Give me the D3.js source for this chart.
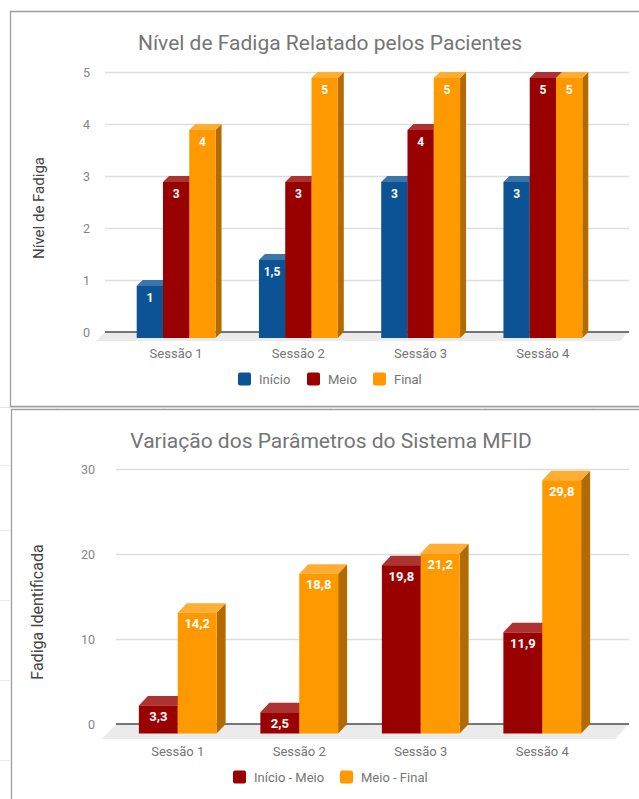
<!DOCTYPE html>
<html>
<head>
<meta charset="utf-8">
<script src="https://cdn.jsdelivr.net/npm/d3@7"></script>
<style>
  html, body { margin: 0; padding: 0; background: #fff; }
  svg { display: block; font-family: Roboto, "Noto Sans", Arial, sans-serif; }
</style>
</head>
<body>
<svg id="chart" width="639" height="799"></svg>
<script>
// Session categories shared by both charts
const sessions = ["Sessão 1", "Sessão 2", "Sessão 3", "Sessão 4"];

// Chart 1: reported fatigue level
const fatigueSeries = ["Início", "Meio", "Final"];
const fatigueInicio = [1, 1.5, 3, 3];
const fatigueMeio = [3, 3, 4, 5];
const fatigueFinal = [4, 5, 5, 5];
const fatigueTicks = [0, 1, 2, 3, 4, 5];

// Chart 2: MFID parameter variation
const mfidSeries = ["Início - Meio", "Meio - Final"];
const mfidInicioMeio = [3.3, 2.5, 19.8, 11.9];
const mfidMeioFinal = [14.2, 18.8, 21.2, 29.8];
const mfidTicks = [0, 10, 20, 30];

const palette = {
  blue:   { front: "#0b5394", top: "#3c75a9", side: "#083a68" },
  red:    { front: "#990000", top: "#ad3333", side: "#6b0000" },
  orange: { front: "#ff9900", top: "#ffad33", side: "#b36b00" }
};

const fmt = v => String(v).replace(".", ",");

const svg = d3.select("#chart");

// spreadsheet cell lines visible around the chart frames
const bg = svg.append("g");
bg.append("line").attr("x1", 0).attr("x2", 639).attr("y1", 407.5).attr("y2", 407.5)
  .attr("stroke", "#e3e3e3");
[57, 163, 330, 485, 593].forEach(x => {
  bg.append("line").attr("x1", x + 0.5).attr("x2", x + 0.5).attr("y1", 406).attr("y2", 410)
    .attr("stroke", "#e3e3e3");
});
[465, 530, 600, 680, 760].forEach(y => {
  bg.append("line").attr("x1", 0).attr("x2", 10).attr("y1", y + 0.5).attr("y2", y + 0.5)
    .attr("stroke", "#ececec");
});

function drawChart(cfg) {
  const g = svg.append("g");

  // frame (open to the right / bottom like a clipped sheet object)
  g.append("path")
    .attr("d", cfg.frame)
    .attr("fill", "none")
    .attr("stroke", "#9e9e9e")
    .attr("stroke-width", 1.3);

  const y = d3.scaleLinear().domain(cfg.domain).range([cfg.y0, cfg.y1]);
  const x0 = d3.scaleBand().domain(sessions).range(cfg.xRange)
    .paddingInner(cfg.pad).paddingOuter(cfg.pad / 2);
  const x1 = d3.scaleBand().domain(cfg.series.map(s => s.name)).range([0, x0.bandwidth()]);

  // title
  g.append("text")
    .attr("x", cfg.titleX).attr("y", cfg.titleY)
    .attr("text-anchor", "middle")
    .attr("font-size", 21)
    .attr("fill", "#757575")
    .text(cfg.title);

  // y axis title
  g.append("text")
    .attr("transform", `translate(${cfg.yTitleX},${cfg.yTitleY}) rotate(-90)`)
    .attr("text-anchor", "middle")
    .attr("font-size", cfg.yTitleSize)
    .attr("fill", "#444")
    .text(cfg.yTitle);

  // floor under the baseline
  const y0 = y(0);
  g.append("path")
    .attr("d", `M${cfg.gridX0},${y0} L${cfg.gridX1},${y0} L${cfg.gridX1 - cfg.floorDx},${y0 + cfg.floorDy} L${cfg.gridX0 - cfg.floorDx},${y0 + cfg.floorDy} Z`)
    .attr("fill", "#ebebeb");

  // gridlines and tick labels
  const yAxis = d3.axisLeft(y).tickValues(cfg.ticks).tickFormat(d3.format("d"))
    .tickSize(0).tickPadding(0);
  const axisG = g.append("g").attr("transform", `translate(${cfg.tickX},0)`).call(yAxis);
  axisG.select(".domain").remove();
  axisG.selectAll("text")
    .attr("font-family", "Roboto, sans-serif")
    .attr("font-size", 12.5)
    .attr("fill", "#858585")
    .attr("dy", "0.35em");

  g.append("g").selectAll("line")
    .data(cfg.ticks.filter(t => t !== 0))
    .join("line")
    .attr("x1", cfg.gridX0).attr("x2", cfg.gridX1)
    .attr("y1", d => y(d) + 0.5).attr("y2", d => y(d) + 0.5)
    .attr("stroke", "#dedede")
    .attr("stroke-width", 1.5);

  g.append("line")
    .attr("x1", cfg.gridX0).attr("x2", cfg.gridX1)
    .attr("y1", y0).attr("y2", y0)
    .attr("stroke", "#4a4a4a")
    .attr("stroke-width", 1.5);

  // 3D bars: back plane sits on the value, front face shifted down-left by the depth
  const dx = cfg.depthX, dy = cfg.depthY;
  const bars = [];
  sessions.forEach((s, i) => {
    cfg.series.forEach(ser => {
      bars.push({ session: s, name: ser.name, value: ser.values[i], color: ser.color });
    });
  });

  const barG = g.append("g");
  bars.forEach(b => {
    const w = x1.bandwidth();
    const x = x0(b.session) + x1(b.name);
    const yv = y(b.value);
    const bg = barG.append("g");
    // side face
    bg.append("path")
      .attr("d", `M${x + w},${yv + dy} L${x + w + dx},${yv} L${x + w + dx},${y0} L${x + w},${y0 + dy} Z`)
      .attr("fill", b.color.side);
    // top face
    bg.append("path")
      .attr("d", `M${x},${yv + dy} L${x + dx},${yv} L${x + w + dx},${yv} L${x + w},${yv + dy} Z`)
      .attr("fill", b.color.top);
    // front face
    bg.append("rect")
      .attr("x", x).attr("y", yv + dy)
      .attr("width", w).attr("height", y0 - yv)
      .attr("fill", b.color.front);
    // value label
    bg.append("text")
      .attr("x", x + w / 2)
      .attr("y", yv + dy + cfg.labelOffset)
      .attr("text-anchor", "middle")
      .attr("font-size", cfg.labelSize)
      .attr("font-weight", "bold")
      .attr("fill", "#fff")
      .text(fmt(b.value));
  });

  // category axis
  const xAxis = d3.axisBottom(x0).tickSize(0).tickPadding(0);
  const xg = g.append("g").attr("transform", `translate(0,${cfg.xLabelY})`).call(xAxis);
  xg.select(".domain").remove();
  xg.selectAll("text")
    .attr("font-family", "Roboto, sans-serif")
    .attr("font-size", 13)
    .attr("fill", "#757575")
    .attr("dy", "0");

  // legend
  const lg = g.append("g");
  cfg.series.forEach((ser, i) => {
    const lx = cfg.legendX[i];
    lg.append("rect")
      .attr("x", lx).attr("y", cfg.legendY - 6.5)
      .attr("width", 13).attr("height", 13)
      .attr("rx", 2)
      .attr("fill", ser.color.front);
    lg.append("text")
      .attr("x", lx + 21).attr("y", cfg.legendY + 4.5)
      .attr("font-size", 13)
      .attr("fill", "#757575")
      .text(ser.name);
  });
}

drawChart({
  frame: "M639,11.5 L10.5,11.5 L10.5,406.5 L639,406.5",
  title: "Nível de Fadiga Relatado pelos Pacientes",
  titleX: 330, titleY: 50,
  yTitle: "Nível de Fadiga", yTitleX: 44, yTitleY: 208, yTitleSize: 15,
  domain: [0, 5], y0: 332, y1: 72,
  ticks: fatigueTicks, tickX: 90,
  gridX0: 105, gridX1: 629,
  floorDx: 9, floorDy: 9,
  xRange: [115, 604], pad: 0.355,
  depthX: 6, depthY: 6,
  labelOffset: 16, labelSize: 12,
  xLabelY: 358,
  legendX: [238, 307, 373], legendY: 379,
  series: [
    { name: fatigueSeries[0], values: fatigueInicio, color: palette.blue },
    { name: fatigueSeries[1], values: fatigueMeio, color: palette.red },
    { name: fatigueSeries[2], values: fatigueFinal, color: palette.orange }
  ]
});

drawChart({
  frame: "M639,409.5 L11.5,409.5 L11.5,799",
  title: "Variação dos Parâmetros do Sistema MFID",
  titleX: 331, titleY: 448,
  yTitle: "Fadiga Identificada", yTitleX: 43, yTitleY: 612, yTitleSize: 16,
  domain: [0, 30], y0: 724, y1: 469,
  ticks: mfidTicks, tickX: 95,
  gridX0: 116, gridX1: 629,
  floorDx: 14, floorDy: 15,
  xRange: [117, 603], pad: 0.36,
  depthX: 9, depthY: 9.5,
  labelOffset: 15.5, labelSize: 13,
  xLabelY: 756,
  legendX: [233, 340], legendY: 777,
  series: [
    { name: mfidSeries[0], values: mfidInicioMeio, color: palette.red },
    { name: mfidSeries[1], values: mfidMeioFinal, color: palette.orange }
  ]
});
</script>
</body>
</html>
